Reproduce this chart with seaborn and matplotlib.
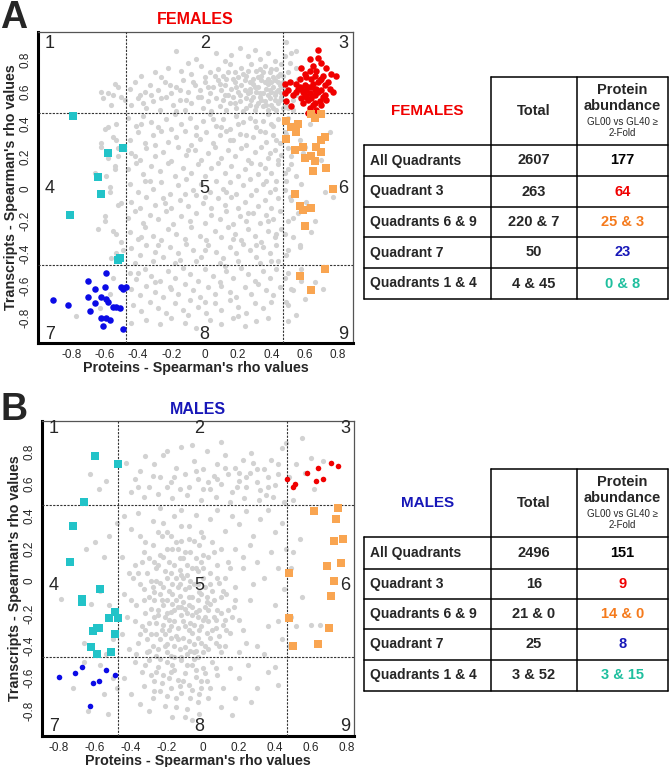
import numpy as np
import matplotlib
matplotlib.use("Agg")
import matplotlib.pyplot as plt
import seaborn as sns

# ---------------- data (background values in hundredths) ----------------
# Panel A (females) highlighted genes
fem_q3_x = [0.68,0.63,0.68,0.65,0.70,0.58,0.63,0.67,0.73,0.71,0.76,0.79,0.74,0.61,0.64,0.66,
            0.69,0.72,0.60,0.62,0.65,0.67,0.70,0.75,0.55,0.57,0.59,0.61,0.63,0.66,0.68,0.71,
            0.73,0.48,0.50,0.53,0.56,0.58,0.60,0.62,0.64,0.66,0.69,0.72,0.77,0.49,0.52,0.55,
            0.59,0.61,0.63,0.65,0.67,0.70,0.48,0.51,0.57,0.60,0.64,0.68,0.62,0.66,0.70,0.58]
fem_q3_y = [0.86,0.80,0.81,0.76,0.78,0.75,0.73,0.73,0.75,0.70,0.71,0.70,0.66,0.69,0.68,0.70,
            0.67,0.64,0.64,0.63,0.65,0.62,0.61,0.62,0.65,0.63,0.60,0.61,0.59,0.58,0.60,0.57,
            0.55,0.65,0.61,0.58,0.62,0.56,0.58,0.55,0.56,0.53,0.54,0.58,0.60,0.54,0.51,0.60,
            0.53,0.57,0.50,0.52,0.49,0.52,0.59,0.66,0.68,0.71,0.63,0.66,0.47,0.61,0.68,0.62]
fem_q69_x = [0.64,0.70,0.66,0.49,0.52,0.56,0.55,0.49,0.72,0.70,0.59,0.67,0.54,0.70,0.64,0.60,
             0.66,0.73,0.65,0.77,0.54,0.57,0.59,0.64,0.60,0.72,0.57,0.64]
fem_q69_y = [0.46,0.46,0.44,0.42,0.38,0.40,0.35,0.31,0.32,0.30,0.26,0.26,0.24,0.23,0.20,0.19,
             0.17,0.13,0.11,0.00,-0.03,-0.11,-0.13,-0.12,-0.23,-0.50,-0.54,-0.63]
fem_q7_x = [-0.59,-0.70,-0.66,-0.60,-0.50,-0.49,-0.47,-0.70,-0.62,-0.59,-0.58,-0.66,-0.55,
            -0.53,-0.51,-0.91,-0.82,-0.69,-0.62,-0.59,-0.57,-0.61,-0.49]
fem_q7_y = [-0.52,-0.57,-0.62,-0.61,-0.61,-0.62,-0.61,-0.67,-0.67,-0.68,-0.70,-0.71,-0.73,
            -0.73,-0.74,-0.69,-0.72,-0.76,-0.80,-0.80,-0.81,-0.85,-0.87]
fem_q14_x = [-0.79,-0.58,-0.49,-0.64,-0.62,-0.81,-0.52,-0.51]
fem_q14_y = [0.45,0.22,0.25,0.07,-0.03,-0.16,-0.44,-0.43]

# Panel B (males) highlighted genes
male_q3_x = [0.47,0.50,0.51,0.58,0.64,0.63,0.67,0.71,0.75]
male_q3_y = [0.63,0.58,0.60,0.67,0.70,0.62,0.63,0.73,0.71]
male_q69_x = [0.62,0.75,0.74,0.73,0.78,0.69,0.77,0.73,0.71,0.48,0.48,0.70,0.64,0.50]
male_q69_y = [0.43,0.45,0.38,0.25,0.26,0.09,0.11,0.00,-0.09,0.05,-0.23,-0.29,-0.39,-0.40]
male_q7_x = [-0.80,-0.71,-0.67,-0.54,-0.49,-0.61,-0.58,-0.63]
male_q7_y = [-0.59,-0.57,-0.53,-0.55,-0.58,-0.63,-0.62,-0.77]
male_q14_x = [-0.60,-0.47,-0.66,-0.72,-0.74,-0.57,-0.67,-0.67,-0.49,-0.52,-0.47,-0.59,-0.61,
              -0.49,-0.62,-0.59,-0.51,-0.58]
male_q14_y = [0.77,0.72,0.49,0.34,0.12,-0.05,-0.11,-0.13,-0.19,-0.23,-0.23,-0.29,-0.31,
              -0.33,-0.41,-0.45,-0.44,-0.29]

# Background genes (hundredths)
fem_gray = [
 (-17,85),(7,84),(21,87),(49,91),(-5,80),(12,79),(26,82),(33,80),(38,84),(42,79),(16,83),(-10,78),(30,86),(52,84),
 (-38,70),(-30,72),(-22,75),(-14,73),(-8,71),(-2,76),(3,72),(8,74),(11,70),(15,77),(18,72),(22,75),(25,70),(28,77),
 (31,73),(34,70),(36,76),(39,72),(41,69),(43,74),(45,71),(20,69),(-26,69),(0,69),(13,68),(29,68),(38,68),(46,77),(50,72),(55,75),
 (-45,62),(-42,66),(-36,60),(-33,64),(-28,61),(-24,66),(-20,59),(-17,63),(-13,67),(-10,60),(-6,64),(-3,61),(0,66),(3,59),
 (5,63),(8,67),(10,61),(12,64),(14,58),(16,62),(18,66),(20,60),(22,64),(24,67),(26,59),(27,62),(29,65),(31,60),(32,63),
 (34,67),(35,59),(37,62),(38,65),(40,60),(41,63),(42,67),(44,61),(45,64),(46,59),(-39,58),(48,60),(52,66),(55,58),(-58,59),(-52,63),
 (-44,52),(-40,56),(-35,50),(-31,54),(-27,49),(-23,57),(-19,52),(-15,55),(-12,49),(-8,53),(-4,57),(-1,50),(2,54),(4,48),
 (7,56),(9,51),(11,55),(13,49),(15,53),(17,57),(19,50),(21,54),(23,48),(25,56),(27,52),(28,55),(30,49),(32,53),(33,57),
 (35,51),(36,54),(38,49),(39,56),(40,52),(42,55),(43,49),(44,53),(46,57),(47,50),(-48,55),(-56,52),(49,51),(53,49),(-61,56),(-17,48),
 (21,58),(24,61),(27,66),(30,63),(33,59),(36,66),(39,61),(42,58),(44,66),(46,63),(19,63),(17,68),(23,71),(26,73),(32,69),
 (35,72),(40,74),(44,70),(29,57),(34,55),(37,52),(41,50),(45,55),(31,51),(25,50),(18,53),(12,58),(9,65),(6,70),(2,63),
 (-2,57),(-7,66),(-11,55),(-15,61),(-21,64),(-26,56),(-32,58),(-37,53),(14,72),(27,60),(38,58),(43,60),(47,66),(40,66),(33,74),
 (-46,44),(-41,39),(-37,45),(-32,41),(-28,38),(-23,43),(-18,46),(-14,40),(-9,44),(-5,38),(-1,42),(3,46),(7,39),(11,43),
 (15,37),(19,45),(23,41),(27,44),(31,38),(35,42),(38,46),(41,39),(44,43),(-53,40),(-60,37),(50,44),(55,39),
 (-45,30),(-40,35),(-36,28),(-31,33),(-26,36),(-22,29),(-17,32),(-12,36),(-8,27),(-3,31),(1,35),(5,28),(9,33),(13,36),
 (17,30),(21,34),(25,27),(29,32),(33,36),(37,29),(41,33),(45,28),(-55,32),(-62,28),(49,34),(57,30),
 (-44,22),(-39,18),(-35,25),(-30,20),(-25,23),(-20,17),(-16,26),(-11,21),(-6,24),(-2,18),(2,22),(6,26),(10,19),(14,24),
 (18,20),(22,25),(26,18),(30,23),(34,26),(38,19),(42,24),(46,21),(-52,25),(-58,19),(52,20),(60,26),
 (-46,12),(-41,16),(-37,9),(-32,14),(-27,11),(-22,16),(-18,8),(-13,13),(-8,10),(-4,15),(0,8),(4,13),(8,16),(12,10),
 (16,14),(20,8),(24,12),(28,16),(32,9),(36,13),(40,10),(44,15),(-54,14),(-66,10),(50,12),(55,8),
 (-45,3),(-40,-2),(-36,5),(-31,0),(-26,4),(-21,-3),(-16,2),(-11,6),(-7,-1),(-2,3),(3,-2),(7,5),(11,0),(15,4),
 (19,-3),(23,2),(27,6),(31,-1),(35,3),(39,-2),(43,5),(-57,1),(48,-1),(58,3),
 (-44,-8),(-39,-12),(-35,-5),(-30,-10),(-25,-6),(-20,-12),(-15,-7),(-10,-11),(-5,-4),(-1,-9),(4,-12),(8,-6),(12,-10),
 (16,-5),(20,-12),(24,-8),(28,-4),(32,-11),(36,-7),(40,-12),(44,-6),(-50,-9),(52,-7),(62,-11),
 (-46,-18),(-42,-14),(-37,-21),(-33,-16),(-28,-19),(-23,-14),(-19,-22),(-14,-17),(-9,-20),(-5,-15),(0,-21),(4,-16),
 (9,-19),(13,-14),(17,-22),(21,-17),(25,-20),(29,-15),(33,-21),(37,-16),(41,-19),(45,-14),(-60,-17),(50,-20),(56,-15),
 (-45,-27),(-40,-31),(-36,-24),(-31,-29),(-26,-32),(-22,-25),(-17,-28),(-12,-31),(-8,-24),(-3,-29),(1,-32),(6,-26),
 (10,-30),(14,-24),(18,-28),(22,-32),(26,-25),(30,-29),(34,-33),(38,-26),(42,-30),(46,-25),(-53,-28),(53,-30),(64,-27),
 (-44,-37),(-39,-41),(-35,-35),(-30,-39),(-25,-42),(-21,-36),(-16,-40),(-11,-34),(-7,-38),(-2,-42),(2,-35),(7,-39),
 (11,-43),(15,-36),(19,-40),(23,-34),(27,-38),(31,-42),(35,-36),(39,-40),(43,-35),(-49,-38),(-56,-43),(49,-41),(57,-36),
 (40,40),(36,35),(43,30),(39,22),(44,18),(33,15),(37,5),(42,0),(30,42),(25,33),(20,40),(15,30),(10,38),(5,43),(-5,33),
 (-10,24),(-20,37),(-30,27),(-38,40),(-42,20),(-33,5),(-24,-9),(-12,-3),(0,-5),(13,-2),(26,-15),(38,-20),(43,-28),
 (-38,-30),(-28,-35),(-15,-44),(0,-38),(17,-31),(31,-35),(40,-45),
 (-42,-46),(-31,-45),(-18,-46),(-5,-45),(9,-46),(20,-45),(33,-46),(44,-45),
 (-45,-52),(-41,-56),(-36,-50),(-32,-54),(-27,-57),(-22,-51),(-18,-55),(-13,-49),(-9,-53),(-4,-57),(0,-50),(5,-54),
 (9,-58),(13,-51),(17,-55),(22,-49),(26,-53),(30,-57),(35,-51),(39,-55),(43,-50),(-55,-55),(50,-52),(58,-57),
 (-44,-62),(-39,-66),(-35,-60),(-30,-64),(-25,-67),(-21,-61),(-16,-65),(-12,-59),(-7,-63),(-3,-67),(2,-61),(6,-65),
 (10,-60),(15,-64),(19,-67),(24,-61),(28,-65),(32,-59),(37,-63),(41,-66),(45,-61),(-57,-65),(53,-63),
 (-43,-72),(-38,-76),(-33,-70),(-28,-74),(-23,-77),(-18,-71),(-13,-75),(-9,-69),(-4,-73),(1,-77),(6,-71),(10,-75),
 (15,-69),(20,-73),(25,-77),(30,-71),(35,-74),(40,-70),(-63,-74),(-77,-79),(50,-72),
 (-35,-81),(-27,-84),(-20,-80),(-12,-83),(-5,-86),(3,-81),(10,-84),(17,-80),(24,-85),(31,-82),(38,-80),(-44,-83),
 (-40,-52),(-20,-62),(0,-70),(20,-79),(-10,-78),(-30,-58),(12,-48),
 (-58,38),(-53,30),(-52,20),(-54,12),(-57,-2),(-52,-10),(-60,-20),(-55,-26),(-50,-33),(-53,-40),(-64,-25),(-59,8),(-62,26),
 (-62,60),(-55,58),(-50,57),(-54,65),
 (47,70),(49,62),(51,78),(53,55),(50,50),(56,68),(48,82),(55,85),
 (48,35),(50,25),(52,15),(49,5),(51,-5),(53,-18),(48,-28),(50,-38),(54,40),(59,22),(61,-8),(66,-20),(72,-2),(70,18),
 (75,35),(48,10),(63,40),(57,-35),(77,-5),
 (48,-55),(52,-62),(49,-70),(55,-78),(60,-68),(66,-58),(58,-50),(50,-82),(71,-62)]

male_gray = [
 (-43,73),(-38,63),(-35,68),(-30,58),(-27,72),(-24,64),(-22,78),(-18,61),(-15,70),(-12,83),(-10,66),(-8,58),(-5,74),
 (-3,63),(0,69),(2,80),(4,57),(6,65),(8,72),(10,60),(12,78),(14,66),(16,55),(18,70),(20,62),(22,75),(24,58),(26,67),
 (28,73),(30,61),(32,56),(34,69),(36,64),(38,75),(40,59),(42,66),(44,82),(46,85),(-40,55),(-33,52),(-25,54),(-17,51),
 (-9,53),(-1,50),(7,52),(15,49),(23,51),(31,50),(39,52),(45,49),(-20,80),(-6,84),(10,86),(-32,77),(27,79),(35,53),
 (-13,57),(3,61),(19,58),
 (-28,65),(-16,64),(-4,68),(8,63),(20,67),(30,69),(36,58),(42,72),(12,70),(0,57),(-20,58),(24,64),(-36,58),
 (55,88),(60,76),(67,74),(52,72),(48,64),(57,67),(62,57),(50,50),
 (-58,57),(-63,66),(-54,62),
 (-44,40),(-40,32),(-36,42),(-32,24),(-28,37),(-24,45),(-20,30),(-16,40),(-12,44),(-8,34),(-4,41),(0,27),(4,38),(8,44),
 (12,31),(16,40),(20,35),(24,43),(28,28),(32,38),(36,44),(40,30),(44,36),(-45,15),(-41,5),(-44,-8),(-42,-22),(-45,-33),
 (-41,-42),(46,20),(42,8),(38,18),(34,2),(45,-5),(40,-15),(36,-28),(44,-36),(30,-40),(26,-12),(22,-30),(30,12),(26,22),
 (22,8),(18,-4),(34,-45),(20,-44),(12,-40),(16,-22),(42,-25),(28,-2),
 (-38,10),(-35,-2),(-37,-15),(-34,-28),(-36,-38),(-33,18),(-31,5),(-30,-10),(-32,-20),(-29,-33),(-31,-44),(-28,22),
 (-27,12),(-26,0),(-27,-7),(-25,-18),(-26,-26),(-24,-36),(-25,-42),(-23,28),(-22,15),(-21,6),(-22,-4),(-20,-12),
 (-21,-22),(-19,-30),(-20,-39),(-18,-46),(-17,20),(-16,10),(-15,2),(-17,-8),(-14,-16),(-16,-25),(-15,-34),(-13,-42),
 (-12,25),(-11,14),(-12,4),(-10,-5),(-11,-13),(-9,-20),(-10,-28),(-8,-37),(-9,-45),(-7,18),(-6,8),(-5,-2),(-6,-10),
 (-4,-19),(-5,-27),(-3,-35),(-4,-43),(-2,22),(-1,12),(0,2),(-1,-8),(1,-16),(0,-24),(2,-32),(1,-40),(3,15),(4,5),
 (5,-6),(4,-14),(6,-22),(5,-30),(7,-38),(8,10),(9,-1),(10,-10),(8,-18),(11,-27),(9,-34),(12,2),(13,-8),(14,-18),
 (12,-24),(-33,-5),(-29,-17),(-24,-8),(-18,-19),(-13,-9),(-8,-15),(-3,-12),(2,-10),(-28,-40),(-23,-30),(-18,-35),
 (-14,-29),(-6,-32),(-1,-28),(-26,8),(-20,2),(-14,-4),(-9,4),(-4,8),(1,-4),(-22,-15),(-17,-2),(-12,-21),(-7,-26),
 (-2,-18),(3,-25),(-30,-26),(-25,-21),(-19,-24),(-15,-12),(-11,-35),(-5,-39),(-20,-44),(-16,-40),(-10,18),(-15,24),
 (-20,20),(-5,25),(0,16),(6,18),(-30,14),(-35,-33),(-38,-25),(-8,-4),(-13,7),(-24,-1),(-19,12),(-27,-12),(-31,-36),
 (-17,-14),(-6,-21),(-10,-17),(-2,-7),(4,-35),(7,-29),(-21,-33),(-26,-46),(-12,-47),(-3,-47),(10,-44),(-35,28),
 (-40,-12),(14,12),(18,20),(15,-32),(18,-12),
 (-36,5),(-33,-12),(-32,-30),(-28,-4),(-27,-22),(-25,10),(-23,-12),(-22,-27),(-21,-40),(-19,-6),(-18,5),(-18,-28),
 (-16,-18),(-14,-36),(-13,14),(-13,-2),(-12,-16),(-11,-25),(-10,-41),(-9,10),(-8,-10),(-8,-30),(-7,0),(-6,-16),
 (-5,-44),(-4,14),(-3,-22),(-3,-2),(-2,-30),(-1,-38),(0,8),(1,-22),(2,-13),(3,-42),(4,-2),(6,-12),(7,-24),(8,2),
 (9,-40),(10,-20),(11,-6),(13,-30),(-29,0),(-24,16),(-20,-20),(-16,-47),(-14,20),(-11,2),(-7,-43),(-3,6),(0,-44),
 (3,-18),(-34,12),(-30,-43),(-26,-33),(-8,26),(-18,28),(-25,30),(5,24),(10,20),(-1,30),(-12,34),(-22,36),(15,8),
 (17,-16),(20,-24),(24,-38),(22,15),(-37,-45),(-39,2),
 (-65,20),(-60,24),(-55,15),(-52,28),(-48,36),(-57,-6),(-52,-15),(-58,-28),(-50,-36),(-66,-38),(-79,-11),(-54,-45),(-62,-14),
 (55,-10),(60,-27),(65,-27),(48,-40),(52,-28),(49,8),(54,26),(49,-22),(50,18),
 (-38,-50),(-34,-56),(-30,-49),(-27,-62),(-25,-53),(-22,-58),(-20,-50),(-18,-66),(-16,-55),(-14,-61),(-12,-49),
 (-10,-57),(-8,-64),(-6,-52),(-4,-59),(-2,-70),(0,-54),(2,-62),(5,-50),(8,-58),(11,-66),(-33,-65),(-28,-72),(-21,-77),
 (-15,-72),(-9,-79),(-3,-75),(3,-72),(-24,-68),(-12,-69),(-19,-60),(-6,-67),(-1,-62),(-26,-56),(-17,-52),(15,-54),
 (20,-60),(25,-52),(30,-66),(36,-56),(42,-64),(-44,-60),(-40,-70),(-30,-80),(-17,-84),(-6,-86),(10,-78),(18,-72),
 (27,-75),(-11,-62),(-24,-48),(-5,-48),(-35,-76),(16,-83),(-2,-82),(40,-53),
 (-29,-58),(-23,-63),(-18,-56),(-13,-65),(-9,-52),(-7,-72),(-4,-55),(-1,-66),(1,-57),(-15,-78),(-27,-68),(-20,-71),
 (-10,-84),(4,-66),(7,-54),(-32,-52),
 (-64,-80),(-72,-66),(-55,-70),(-50,-60),(-66,-50),(-57,-52),(-48,-66),(-53,-82)]

# Tables
row_labels = ["All Quadrants", "Quadrant 3", "Quadrants 6 & 9", "Quadrant 7", "Quadrants 1 & 4"]
fem_total = ["2607", "263", "220 & 7", "50", "4 & 45"]
fem_abund = ["177", "64", "25 & 3", "23", "0 & 8"]
male_total = ["2496", "16", "21 & 0", "25", "3 & 52"]
male_abund = ["151", "9", "14 & 0", "8", "3 & 15"]

tick_vals = [-0.8, -0.6, -0.4, -0.2, 0.0, 0.2, 0.4, 0.6, 0.8]
tick_labels = ["-0.8", "-0.6", "-0.4", "-0.2", "0", "0.2", "0.4", "0.6", "0.8"]
threshold = 0.47

# ---------------- style ----------------
sns.set_style("white")
plt.rcParams['font.family'] = ['Liberation Sans', 'DejaVu Sans']
plt.rcParams['axes.unicode_minus'] = False

RED = "#f00000"
ORANGE = "#f9a551"
BLUE = "#0b0be6"
CYAN = "#22c3c8"
GRAY = "#d2d2d2"
TXT_ORANGE = "#f57a1c"
TXT_BLUE = "#1717b8"
TXT_TEAL = "#1fbf9e"

W, H = 671, 767
fig = plt.figure(figsize=(W / 100, H / 100), dpi=100)


def px_axes(x0, y0, x1, y1):
    return fig.add_axes([x0 / W, 1 - y1 / H, (x1 - x0) / W, (y1 - y0) / H])


def draw_panel(ax, gray, groups, xlim, ylim, quad_pos):
    g = np.array(gray, dtype=float) / 100.0
    sns.scatterplot(x=g[:, 0], y=g[:, 1], color=GRAY, s=14, linewidth=0, ax=ax, zorder=2)
    for xs, ys, color, marker, size in groups:
        sns.scatterplot(x=xs, y=ys, color=color, marker=marker, s=size, linewidth=0, ax=ax, zorder=4)
    for v in (-threshold, threshold):
        ax.axvline(v, color="#333333", lw=0.8, ls=(0, (2, 1.2)), zorder=3)
        ax.axhline(v, color="#333333", lw=0.8, ls=(0, (2, 1.2)), zorder=3)
    ax.set_xlim(*xlim)
    ax.set_ylim(*ylim)
    ax.set_xticks(tick_vals)
    ax.set_xticklabels(tick_labels)
    ax.set_yticks(tick_vals)
    ax.set_yticklabels(tick_labels, rotation=90, va="center")
    ax.tick_params(axis="both", labelsize=8.5, length=2.5, width=0.8, pad=2, color="#222222")
    ax.set_xlabel("Proteins - Spearman's rho values", fontsize=10.3, fontweight="bold", labelpad=0)
    ax.set_ylabel("Transcripts - Spearman's rho values", fontsize=10.3, fontweight="bold", labelpad=1)
    for side in ("left", "bottom"):
        ax.spines[side].set_linewidth(2.2)
        ax.spines[side].set_color("black")
    for side in ("top", "right"):
        ax.spines[side].set_linewidth(0.9)
        ax.spines[side].set_color("#555555")
    for i, (qx, qy) in enumerate(quad_pos):
        ax.text(qx, qy, str(i + 1), fontsize=13, ha="center", va="center", zorder=5)


# Panel A
axA = px_axes(38, 32, 353, 343)
xa = (-1.0, 0.89)
ya = (-0.955, 0.97)
qa = [(-0.93, 0.90), (0.0, 0.90), (0.83, 0.90),
      (-0.93, 0.0), (0.0, 0.0), (0.83, 0.0),
      (-0.93, -0.90), (0.0, -0.90), (0.83, -0.90)]
draw_panel(axA, fem_gray,
           [(fem_q3_x, fem_q3_y, RED, "o", 22),
            (fem_q69_x, fem_q69_y, ORANGE, "s", 30),
            (fem_q7_x, fem_q7_y, BLUE, "o", 22),
            (fem_q14_x, fem_q14_y, CYAN, "s", 34)],
           xa, ya, qa)

# Panel B
axB = px_axes(42, 421, 354, 736)
xb = (-0.895, 0.84)
yb = (-0.957, 0.988)
qb = [(-0.83, 0.94), (-0.02, 0.94), (0.79, 0.94),
      (-0.83, -0.025), (-0.02, -0.025), (0.79, -0.025),
      (-0.83, -0.90), (-0.02, -0.90), (0.79, -0.90)]
draw_panel(axB, male_gray,
           [(male_q3_x, male_q3_y, RED, "o", 16),
            (male_q69_x, male_q69_y, ORANGE, "s", 30),
            (male_q7_x, male_q7_y, BLUE, "o", 16),
            (male_q14_x, male_q14_y, CYAN, "s", 34)],
           xb, yb, qb)

# Titles and panel letters
fig.text(195 / W, 1 - 19 / H, "FEMALES", color=RED, fontsize=11.5, fontweight="bold", ha="center", va="center")
fig.text(198 / W, 1 - 409 / H, "MALES", color=TXT_BLUE, fontsize=11.5, fontweight="bold", ha="center", va="center")
fig.text(14 / W, 1 - 18 / H, "A", fontsize=27, fontweight="bold", ha="center", va="center")
fig.text(14 / W, 1 - 410 / H, "B", fontsize=27, fontweight="bold", ha="center", va="center")


def draw_table(top, head_bot, row_lines, title, title_color, totals, abunds):
    x0, c1, c2, x1 = 364, 491, 577, 668
    y_top, y_bot = top, row_lines[-1]
    tax = px_axes(x0 - 5, y_top - 5, x1 + 5, y_bot + 5)
    tax.set_xlim(x0 - 5, x1 + 5)
    tax.set_ylim(y_bot + 5, y_top - 5)
    tax.axis("off")
    lw = 1.1
    tax.plot([x0, x0], [head_bot, y_bot], color="black", lw=lw)
    for cx in (c1, c2, x1):
        tax.plot([cx, cx], [y_top, y_bot], color="black", lw=lw)
    tax.plot([c1, x1], [y_top, y_top], color="black", lw=lw)
    for ry in [head_bot] + row_lines:
        tax.plot([x0, x1], [ry, ry], color="black", lw=lw)
    hc = (y_top + head_bot) / 2
    tax.text((x0 + c1) / 2, hc, title, color=title_color, fontsize=11, fontweight="bold", ha="center", va="center")
    tax.text((c1 + c2) / 2, hc, "Total", fontsize=10.5, fontweight="bold", ha="center", va="center")
    mid = (c2 + x1) / 2
    tax.text(mid, y_top + 13, "Protein", fontsize=10.5, fontweight="bold", ha="center", va="center")
    tax.text(mid, y_top + 29, "abundance", fontsize=10.5, fontweight="bold", ha="center", va="center")
    tax.text(mid, y_top + 45, "GL00 vs GL40 \u2265", fontsize=7, ha="center", va="center")
    tax.text(mid, y_top + 56, "2-Fold", fontsize=7, ha="center", va="center")
    colors = ["black", RED, TXT_ORANGE, TXT_BLUE, TXT_TEAL]
    edges = [head_bot] + row_lines
    for i in range(5):
        cy = (edges[i] + edges[i + 1]) / 2
        tax.text(x0 + 6, cy, row_labels[i], fontsize=10, fontweight="bold", ha="left", va="center")
        tax.text((c1 + c2) / 2, cy, totals[i], fontsize=10.5, fontweight="bold", ha="center", va="center")
        tax.text(mid, cy, abunds[i], fontsize=10.5, fontweight="bold", color=colors[i], ha="center", va="center")


draw_table(77, 145, [176, 207, 237, 268, 299], "FEMALES", RED, fem_total, fem_abund)
draw_table(469, 537, [569, 599, 629, 660, 691], "MALES", TXT_BLUE, male_total, male_abund)

fig.savefig("out.png", dpi=100)
